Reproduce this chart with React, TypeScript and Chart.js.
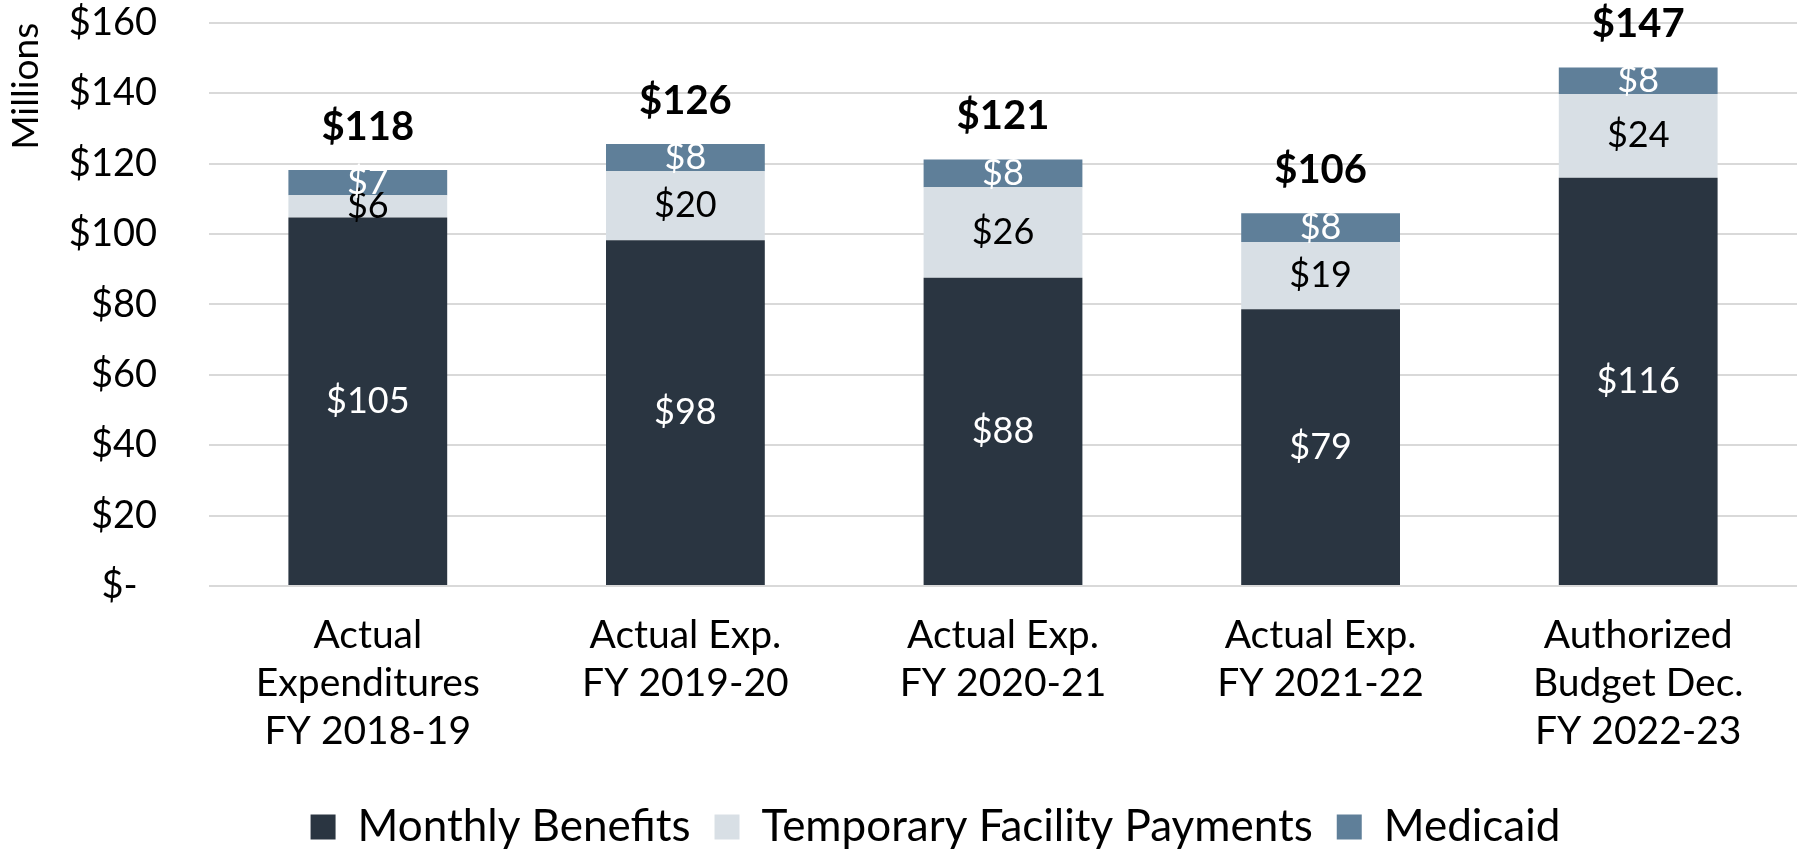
import React, { useEffect, useRef } from "react";
import { Chart, registerables } from "chart.js";

Chart.register(...registerables);

const categories: string[][] = [
  ["Actual", "Expenditures", "FY 2018-19"],
  ["Actual Exp.", "FY 2019-20"],
  ["Actual Exp.", "FY 2020-21"],
  ["Actual Exp.", "FY 2021-22"],
  ["Authorized", "Budget Dec.", "FY 2022-23"],
];

const monthlyBenefits = [104.7, 98.2, 87.6, 78.6, 116.0];
const temporaryFacilityPayments = [6.3, 19.6, 25.7, 19.1, 23.8];
const medicaid = [7.2, 7.8, 7.9, 8.2, 7.5];

const seriesNames = ["Monthly Benefits", "Temporary Facility Payments", "Medicaid"];
const seriesColors = ["#2a3541", "#d8dfe5", "#5f7f99"];
const labelColors = ["#ffffff", "#000000", "#ffffff"];

const yTicks = [0, 20, 40, 60, 80, 100, 120, 140, 160];

const FONT = "Lato, 'Noto Sans', sans-serif";

const labelPlugin = {
  id: "segmentLabels",
  afterLayout(chart: any) {
    if (chart.legend) {
      chart.legend.left += 74;
    }
  },
  afterDatasetsDraw(chart: any) {
    const ctx = chart.ctx;
    ctx.save();
    ctx.textAlign = "center";
    ctx.textBaseline = "middle";
    chart.data.datasets.forEach((ds: any, di: number) => {
      const meta = chart.getDatasetMeta(di);
      meta.data.forEach((bar: any, j: number) => {
        const v = ds.data[j];
        const cy = (bar.y + bar.base) / 2;
        ctx.fillStyle = labelColors[di];
        ctx.font = `36px ${FONT}`;
        ctx.fillText("$" + Math.round(v), bar.x, cy);
      });
    });
    const lastMeta = chart.getDatasetMeta(chart.data.datasets.length - 1);
    lastMeta.data.forEach((bar: any, j: number) => {
      let total = 0;
      chart.data.datasets.forEach((ds: any) => (total += ds.data[j]));
      ctx.fillStyle = "#000000";
      ctx.font = `bold 40px ${FONT}`;
      ctx.fillText("$" + Math.round(total), bar.x, bar.y - 43);
    });
    ctx.restore();
  },
};

export default function App() {
  const ref = useRef<HTMLCanvasElement | null>(null);
  useEffect(() => {
    document.body.style.margin = "0";
    if (!ref.current) return;
    const chart = new Chart(ref.current, {
      type: "bar",
      data: {
        labels: categories,
        datasets: [monthlyBenefits, temporaryFacilityPayments, medicaid].map((d, i) => ({
          label: seriesNames[i],
          data: d,
          backgroundColor: seriesColors[i],
          borderWidth: 0,
          barPercentage: 0.5,
          categoryPercentage: 1.0,
        })),
      },
      options: {
        animation: false,
        responsive: false,
        maintainAspectRatio: false,
        layout: { padding: { top: 0, right: 4, bottom: -8, left: 0 } },
        plugins: {
          tooltip: { enabled: false },
          legend: {
            position: "bottom",
            labels: {
              color: "#000000",
              font: { family: FONT, size: 44 },
              boxWidth: 25,
              boxHeight: 25,
              padding: 24,
            },
          },
        },
        scales: {
          x: {
            stacked: true,
            grid: { display: false, drawTicks: false },
            border: { display: false },
            ticks: {
              color: "#000000",
              font: { family: FONT, size: 39, lineHeight: 1.22 },
              padding: 26,
              maxRotation: 0,
              autoSkip: false,
            },
            afterFit: (scale: any) => {
              scale.height = 195;
            },
          },
          y: {
            stacked: true,
            min: 0,
            max: 160,
            afterBuildTicks: (scale: any) => {
              scale.ticks = yTicks.map((v) => ({ value: v }));
            },
            grid: {
              color: "#d9d9d9",
              lineWidth: 2,
              drawTicks: true,
              tickLength: 52,
              tickColor: "rgba(0,0,0,0)",
            },
            border: { display: false },
            ticks: {
              color: "#000000",
              font: { family: FONT, size: 38 },
              padding: 0,
              callback: (v: any) => (v === 0 ? "$-  " : "$" + v),
            },
            title: {
              display: true,
              text: "Millions",
              align: "end",
              color: "#000000",
              font: { family: FONT, size: 37 },
              padding: { top: 4, bottom: 0 },
            },
            afterFit: (scale: any) => {
              scale.width = 209;
            },
          },
        },
      },
      plugins: [labelPlugin],
    });
    return () => chart.destroy();
  }, []);
  return (
    <div style={{ width: 1801, height: 851 }}>
      <canvas ref={ref} width={1801} height={851} style={{ display: "block" }} />
    </div>
  );
}
